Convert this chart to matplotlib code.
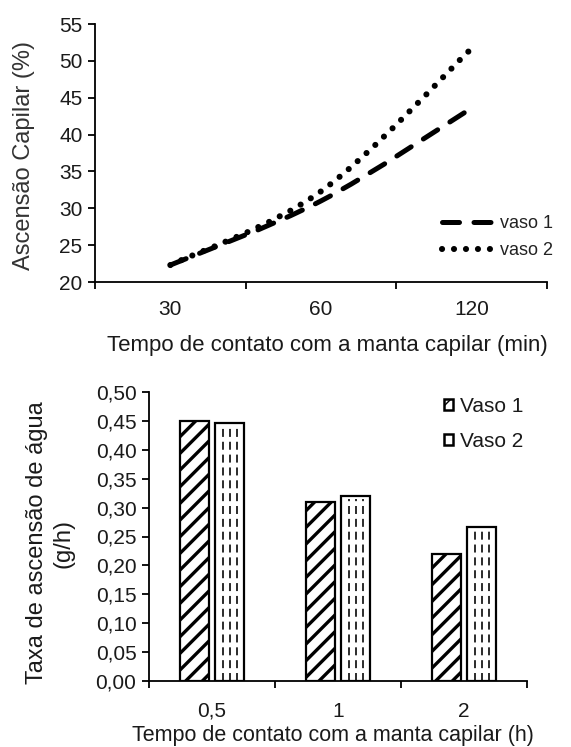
import matplotlib
matplotlib.use("Agg")
import matplotlib.pyplot as plt
import numpy as np
from matplotlib.ticker import FixedLocator, FuncFormatter
from matplotlib.path import Path
from matplotlib.patches import PathPatch
from matplotlib.lines import Line2D

plt.rcParams['font.family'] = ['Liberation Sans', 'DejaVu Sans']

# ---- data: top chart ----
top_categories = ["30", "60", "120"]
vaso1_line = [22.3, 31.0, 43.6]
vaso2_line = [22.3, 32.3, 51.7]
top_yticks = [20, 25, 30, 35, 40, 45, 50, 55]

# ---- data: bottom chart ----
bar_categories = ["0,5", "1", "2"]
vaso1_bars = [0.449, 0.309, 0.219]
vaso2_bars = [0.446, 0.320, 0.266]
bar_yticks = [0.00, 0.05, 0.10, 0.15, 0.20, 0.25, 0.30, 0.35, 0.40, 0.45, 0.50]

W, H = 571, 747
fig = plt.figure(figsize=(W / 100, H / 100), dpi=100)

txt = '#1a1a1a'

def fx(px):
    return px / W

def fy(py):
    return 1 - py / H


def smooth_path(xs, ys):
    """Excel-style smoothed line: cubic Bezier through the data points."""
    pts = np.column_stack([xs, ys]).astype(float)
    n = len(pts)
    verts = [pts[0]]
    codes = [Path.MOVETO]
    for i in range(n - 1):
        p_prev = pts[i - 1] if i > 0 else pts[i]
        p0 = pts[i]
        p1 = pts[i + 1]
        p_next = pts[i + 2] if i + 2 < n else pts[i + 1]
        c1 = p0 + (p1 - p_prev) / 6.0
        c2 = p1 - (p_next - p0) / 6.0
        verts += [c1, c2, p1]
        codes += [Path.CURVE4] * 3
    return Path(verts, codes)


dash_style = dict(color='black', lw=3.6, linestyle=(0, (3.4, 2.9)))
dot_style = dict(color='black', lw=4.4, linestyle=(0, (0.01, 1.95)))

# ---------------- top chart ----------------
ax1 = fig.add_axes([fx(95), fy(282), fx(547) - fx(95), fy(24) - fy(282)])
xpos = np.arange(len(top_categories))
p1 = PathPatch(smooth_path(xpos, vaso1_line), fill=False, edgecolor='black',
               lw=dash_style['lw'], linestyle=dash_style['linestyle'],
               capstyle='round')
p2 = PathPatch(smooth_path(xpos, vaso2_line), fill=False, edgecolor='black',
               lw=dot_style['lw'], linestyle=dot_style['linestyle'],
               capstyle='round')
ax1.add_patch(p1)
ax1.add_patch(p2)
ax1.set_xlim(-0.5, 2.5)
ax1.set_ylim(20, 55)
ax1.set_yticks(top_yticks)
ax1.set_yticklabels([str(v) for v in top_yticks])
ax1.set_xticks(xpos)
ax1.set_xticklabels(top_categories)
ax1.xaxis.set_minor_locator(FixedLocator([-0.5, 0.5, 1.5, 2.5]))
ax1.tick_params(axis='x', which='major', length=0, pad=13, labelsize=15, labelcolor=txt)
ax1.tick_params(axis='x', which='minor', length=5, width=1.3, direction='out')
ax1.tick_params(axis='y', which='major', length=5, width=1.3, direction='out',
                pad=4, labelsize=15, labelcolor=txt)
for s in ['top', 'right']:
    ax1.spines[s].set_visible(False)
for s in ['left', 'bottom']:
    ax1.spines[s].set_linewidth(1.3)

fig.text(fx(327), fy(345), "Tempo de contato com a manta capilar (min)",
         ha='center', va='center', fontsize=16, color=txt)
fig.text(fx(24), fy(155), "Ascensão Capilar (%)", rotation=90,
         ha='center', va='center', fontsize=17, color='#333333')

h1 = Line2D([], [], dash_capstyle='round', **dash_style)
h2 = Line2D([], [], dash_capstyle='round', **dot_style)
leg1 = fig.legend(handles=[h1, h2], labels=['vaso 1', 'vaso 2'],
                  loc='center left', bbox_to_anchor=(fx(442), fy(237)),
                  frameon=False, fontsize=13, handlelength=3.0,
                  handletextpad=0.2, labelspacing=0.55, borderpad=0,
                  borderaxespad=0)
for t in leg1.get_texts():
    t.set_color('#222222')

# ---------------- bottom chart ----------------
ax2 = fig.add_axes([fx(149), fy(681), fx(527) - fx(149), fy(392) - fy(681)])
bpos = np.arange(len(bar_categories))
bw = 0.23
off = 0.142
b1 = ax2.bar(bpos - off, vaso1_bars, bw, facecolor='white', edgecolor='black',
             linewidth=1.6, hatch='//', label='Vaso 1')
b2 = ax2.bar(bpos + off, vaso2_bars, bw, facecolor='white', edgecolor='black',
             linewidth=1.6, label='Vaso 2')
for p in b1:
    try:
        p.set_hatch_linewidth(2.4)
    except AttributeError:
        pass
# dashed vertical pattern inside Vaso 2 bars, derived from the bar patches
for p in b2:
    x0 = p.get_x()
    w = p.get_width()
    h = p.get_height()
    for frac in (0.25, 0.5, 0.75):
        ax2.vlines(x0 + frac * w, 0, h * 0.985, colors='#111111', linewidth=1.25,
                   linestyles=(0, (4.6, 2.8)))
ax2.set_xlim(-0.5, 2.5)
ax2.set_ylim(0, 0.5)
ax2.set_yticks(bar_yticks)
ax2.yaxis.set_major_formatter(FuncFormatter(lambda v, _: f"{v:.2f}".replace('.', ',')))
ax2.set_xticks(bpos)
ax2.set_xticklabels(bar_categories)
ax2.xaxis.set_minor_locator(FixedLocator([-0.5, 0.5, 1.5, 2.5]))
ax2.tick_params(axis='x', which='major', length=0, pad=15, labelsize=15, labelcolor=txt)
ax2.tick_params(axis='x', which='minor', length=5, width=1.3, direction='out')
ax2.tick_params(axis='y', which='major', length=5, width=1.3, direction='out',
                pad=4, labelsize=15, labelcolor=txt)
for s in ['top', 'right']:
    ax2.spines[s].set_visible(False)
for s in ['left', 'bottom']:
    ax2.spines[s].set_linewidth(1.3)

fig.text(fx(333), fy(736), "Tempo de contato com a manta capilar (h)",
         ha='center', va='center', fontsize=15.5, color=txt)
fig.text(fx(50), fy(543), "Taxa de ascensão de água\n(g/h)", rotation=90,
         ha='center', va='center', fontsize=17, color=txt, linespacing=1.25)

leg2 = ax2.legend(handles=[b1, b2], labels=['Vaso 1', 'Vaso 2'],
                  loc='upper left', bbox_to_anchor=(fx(444), fy(397)),
                  bbox_transform=fig.transFigure,
                  frameon=False, fontsize=15, handlelength=0.45, handleheight=0.45,
                  handletextpad=0.3, labelspacing=0.75, borderpad=0,
                  borderaxespad=0)
for t in leg2.get_texts():
    t.set_color(txt)
for hp in leg2.legend_handles:
    hp.set_linewidth(1.8)

fig.savefig("out.png", dpi=100)
